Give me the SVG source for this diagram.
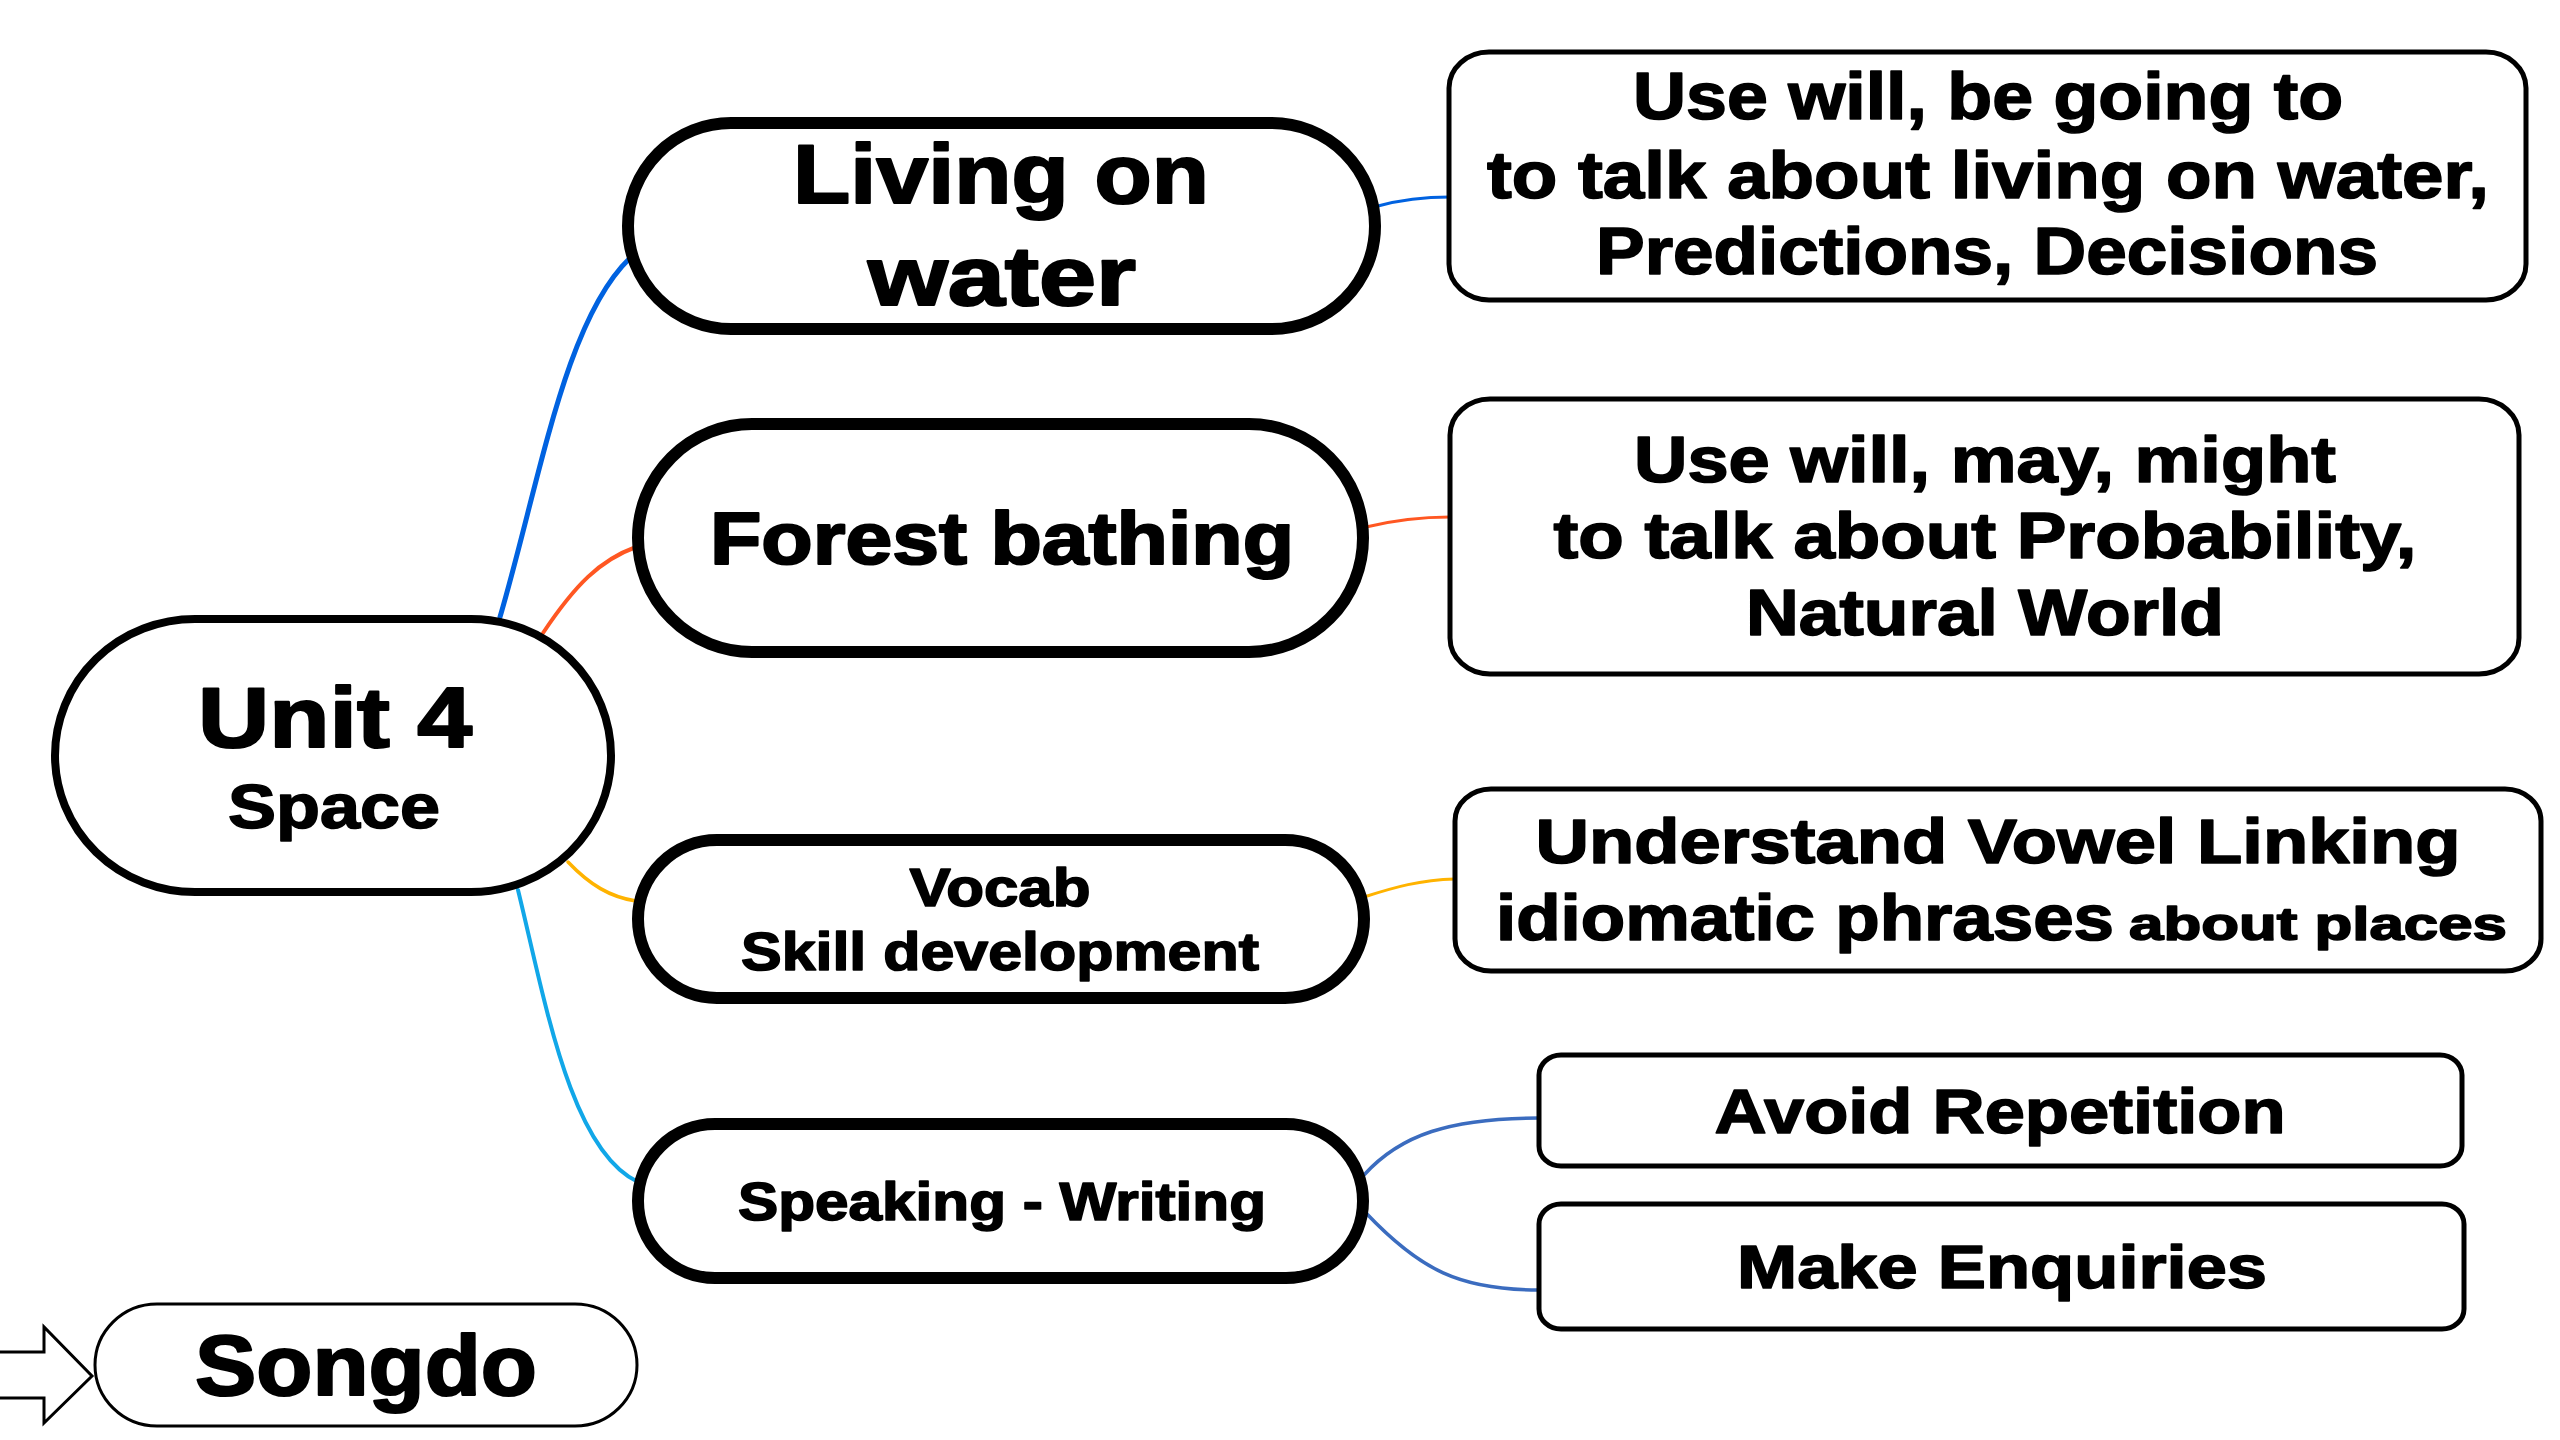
<svg xmlns="http://www.w3.org/2000/svg" width="2560" height="1440" viewBox="0 0 2560 1440">
<style>
text{font-family:"Liberation Sans",Arial,sans-serif;font-weight:bold;fill:#000;text-anchor:middle;stroke:#000;stroke-width:1.6;stroke-linejoin:round}
text.big{stroke-width:2.2}
.pill{fill:#fff;stroke:#000;stroke-width:12}
.root{fill:#fff;stroke:#000;stroke-width:8}
.box{fill:#fff;stroke:#000;stroke-width:5}
.thin{fill:#fff;stroke:#000;stroke-width:3}
.c{fill:none;stroke-linecap:round}
</style>
<rect width="2560" height="1440" fill="#fff"/>
<g id="connectors">
<path class="c" d="M500,617 C540,480 565,320 630,258" stroke="#0062E0" stroke-width="5"/>
<path class="c" d="M1378,206 C1400,200 1420,197 1450,197" stroke="#0062E0" stroke-width="3"/>
<path class="c" d="M543,633 C575,585 600,560 636,547" stroke="#FF5722" stroke-width="4"/>
<path class="c" d="M1366,527 C1395,520 1420,517 1450,517" stroke="#FF5722" stroke-width="3"/>
<path class="c" d="M568,862 C590,885 610,897 636,901" stroke="#FFB300" stroke-width="3.5"/>
<path class="c" d="M1364,897 C1395,887 1420,880 1455,879" stroke="#FFB300" stroke-width="3"/>
<path class="c" d="M518,890 C545,1000 570,1150 638,1182" stroke="#11A7E8" stroke-width="4"/>
<path class="c" d="M1364,1175 C1400,1135 1450,1118 1539,1118" stroke="#3B6CBF" stroke-width="3.5"/>
<path class="c" d="M1366,1213 C1420,1270 1460,1290 1539,1290" stroke="#3B6CBF" stroke-width="3.5"/>
</g>
<g id="unit4">
<rect class="root" x="55" y="619" width="556" height="273" rx="140" ry="137"/>
<text class="big" x="335" y="747" font-size="86" textLength="274" lengthAdjust="spacingAndGlyphs">Unit 4</text>
<text x="334" y="828" font-size="63" textLength="212" lengthAdjust="spacingAndGlyphs">Space</text>
</g>
<g id="living">
<rect class="pill" x="628" y="123" width="747" height="206" rx="103" ry="103"/>
<text class="big" x="1001" y="203" font-size="84" textLength="416" lengthAdjust="spacingAndGlyphs">Living on</text>
<text class="big" x="1002" y="305" font-size="84" textLength="268" lengthAdjust="spacingAndGlyphs">water</text>
</g>
<g id="forest">
<rect class="pill" x="638" y="424" width="725" height="228" rx="114" ry="114"/>
<text class="big" x="1002" y="564" font-size="75" textLength="584" lengthAdjust="spacingAndGlyphs">Forest bathing</text>
</g>
<g id="vocab">
<rect class="pill" x="638" y="840" width="726" height="158" rx="79" ry="79"/>
<text x="1000" y="906" font-size="53" textLength="181" lengthAdjust="spacingAndGlyphs">Vocab</text>
<text x="1000" y="970" font-size="53" textLength="518" lengthAdjust="spacingAndGlyphs">Skill development</text>
</g>
<g id="speaking">
<rect class="pill" x="638" y="1124" width="725" height="154" rx="77" ry="77"/>
<text x="1002" y="1220" font-size="53" textLength="528" lengthAdjust="spacingAndGlyphs">Speaking - Writing</text>
</g>
<g id="box1">
<rect class="box" x="1449" y="52" width="1077" height="248" rx="40" ry="36"/>
<text x="1988" y="119" font-size="66" textLength="710" lengthAdjust="spacingAndGlyphs">Use will, be going to</text>
<text x="1988" y="198" font-size="66" textLength="1002" lengthAdjust="spacingAndGlyphs">to talk about living on water,</text>
<text x="1987" y="274" font-size="66" textLength="782" lengthAdjust="spacingAndGlyphs">Predictions, Decisions</text>
</g>
<g id="box2">
<rect class="box" x="1450" y="399" width="1069" height="275" rx="40" ry="36"/>
<text x="1985" y="482" font-size="64" textLength="702" lengthAdjust="spacingAndGlyphs">Use will, may, might</text>
<text x="1985" y="558" font-size="64" textLength="863" lengthAdjust="spacingAndGlyphs">to talk about Probability,</text>
<text x="1985" y="635" font-size="64" textLength="478" lengthAdjust="spacingAndGlyphs">Natural World</text>
</g>
<g id="box3">
<rect class="box" x="1455" y="789" width="1086" height="182" rx="36" ry="32"/>
<text x="1998" y="863" font-size="63" textLength="925" lengthAdjust="spacingAndGlyphs">Understand Vowel Linking</text>
<text x="1805" y="940" font-size="64" textLength="618" lengthAdjust="spacingAndGlyphs">idiomatic phrases</text>
<text x="2318" y="940" font-size="46" textLength="378" lengthAdjust="spacingAndGlyphs">about places</text>
</g>
<g id="avoid">
<rect class="box" x="1539" y="1055" width="923" height="111" rx="22" ry="20"/>
<text x="2000" y="1133" font-size="63" textLength="571" lengthAdjust="spacingAndGlyphs">Avoid Repetition</text>
</g>
<g id="enquiries">
<rect class="box" x="1539" y="1204" width="925" height="125" rx="22" ry="20"/>
<text x="2002" y="1288" font-size="62" textLength="530" lengthAdjust="spacingAndGlyphs">Make Enquiries</text>
</g>
<g id="songdo">
<path class="thin" d="M-5,1352 L44,1352 L44,1327 L92,1376 L44,1423 L44,1398 L-5,1398 Z" stroke-linejoin="miter"/>
<rect class="thin" x="95" y="1304" width="542" height="122" rx="62" ry="61"/>
<text class="big" x="366" y="1395" font-size="86" textLength="342" lengthAdjust="spacingAndGlyphs">Songdo</text>
</g>
</svg>
